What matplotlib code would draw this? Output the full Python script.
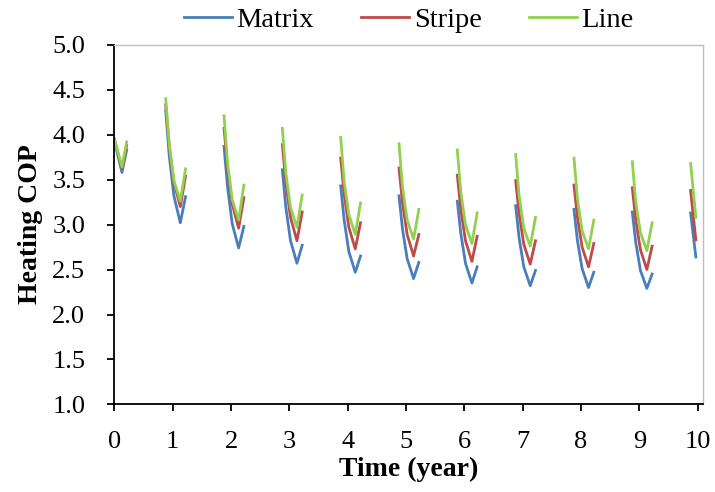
import numpy as np
import matplotlib.pyplot as plt

plt.rcParams['font.family'] = ['Liberation Serif', 'DejaVu Serif']

# heating seasons: one list of times (years) per season
season_t = [
    [0.00, 0.13, 0.21],
    [0.88, 0.94, 1.02, 1.13, 1.22],
    [1.88, 1.94, 2.02, 2.13, 2.22],
    [2.88, 2.94, 3.02, 3.13, 3.22],
    [3.88, 3.94, 4.02, 4.13, 4.22],
    [4.88, 4.94, 5.02, 5.13, 5.22],
    [5.88, 5.94, 6.02, 6.13, 6.22],
    [6.88, 6.94, 7.02, 7.13, 7.22],
    [7.88, 7.94, 8.02, 8.13, 8.22],
    [8.88, 8.94, 9.02, 9.13, 9.22],
    [9.88, 9.97],
]

matrix = [
    [3.93, 3.58, 3.83],
    [4.27, 3.77, 3.32, 3.02, 3.31],
    [3.87, 3.42, 3.01, 2.74, 2.98],
    [3.61, 3.19, 2.82, 2.57, 2.77],
    [3.43, 3.05, 2.70, 2.47, 2.65],
    [3.32, 2.95, 2.62, 2.40, 2.58],
    [3.26, 2.90, 2.57, 2.35, 2.53],
    [3.21, 2.85, 2.53, 2.32, 2.49],
    [3.17, 2.82, 2.51, 2.30, 2.47],
    [3.14, 2.80, 2.49, 2.29, 2.45],
    [3.13, 2.64],
]

stripe = [
    [3.95, 3.62, 3.88],
    [4.33, 3.88, 3.47, 3.20, 3.54],
    [4.07, 3.63, 3.23, 2.96, 3.30],
    [3.89, 3.46, 3.08, 2.82, 3.14],
    [3.74, 3.34, 2.97, 2.73, 3.02],
    [3.63, 3.24, 2.89, 2.65, 2.89],
    [3.55, 3.17, 2.82, 2.59, 2.87],
    [3.49, 3.12, 2.78, 2.56, 2.82],
    [3.44, 3.08, 2.75, 2.53, 2.79],
    [3.41, 3.05, 2.72, 2.50, 2.76],
    [3.38, 2.83],
]

line = [
    [3.95, 3.64, 3.92],
    [4.40, 3.89, 3.49, 3.26, 3.62],
    [4.21, 3.69, 3.28, 3.05, 3.44],
    [4.07, 3.57, 3.19, 2.97, 3.33],
    [3.97, 3.48, 3.11, 2.89, 3.24],
    [3.90, 3.42, 3.05, 2.84, 3.17],
    [3.83, 3.36, 3.00, 2.79, 3.13],
    [3.78, 3.32, 2.96, 2.76, 3.08],
    [3.74, 3.29, 2.93, 2.73, 3.05],
    [3.70, 3.25, 2.91, 2.71, 3.02],
    [3.68, 3.08],
]


def join(seasons):
    # NaN between seasons so the summer months stay empty
    out = []
    for s in seasons:
        out += list(s) + [np.nan]
    return np.array(out)


t = join(season_t)

fig = plt.figure(figsize=(7.15, 4.92), dpi=100)
ax = fig.add_axes([0.160, 0.178, 0.823, 0.731])

ax.plot(t, join(matrix), color='#4A7EBB', lw=2.0, label='Matrix')
ax.plot(t, join(stripe), color='#BE4B48', lw=2.0, label='Stripe')
ax.plot(t, join(line), color='#92D050', lw=2.0, label='Line')

ax.set_xlim(0, 10.09)
ax.set_ylim(1.0, 5.0)
ax.set_xticks(range(0, 11))
ax.set_yticks(np.arange(1.0, 5.01, 0.5))
ax.set_yticklabels(['%.1f' % v for v in np.arange(1.0, 5.01, 0.5)])
ax.tick_params(direction='out', length=5, width=1.3, labelsize=19, colors='black')
ax.tick_params(axis='x', pad=14)
ax.tick_params(axis='y', pad=16)

for side in ['left', 'bottom']:
    ax.spines[side].set_linewidth(1.3)
for side in ['top', 'right']:
    ax.spines[side].set_color('#BFBFBF')
    ax.spines[side].set_linewidth(1.0)

ax.set_xlabel('Time (year)', fontsize=20, fontweight='bold', labelpad=3)
ax.set_ylabel('Heating COP', fontsize=20, fontweight='bold', labelpad=7)

ax.legend(loc='center', bbox_to_anchor=(0.5, 1.068), ncol=3, frameon=False,
          fontsize=20.5, handlelength=1.7, handletextpad=0.15, columnspacing=1.65,
          borderaxespad=0)

fig.savefig('out.png', dpi=100)
